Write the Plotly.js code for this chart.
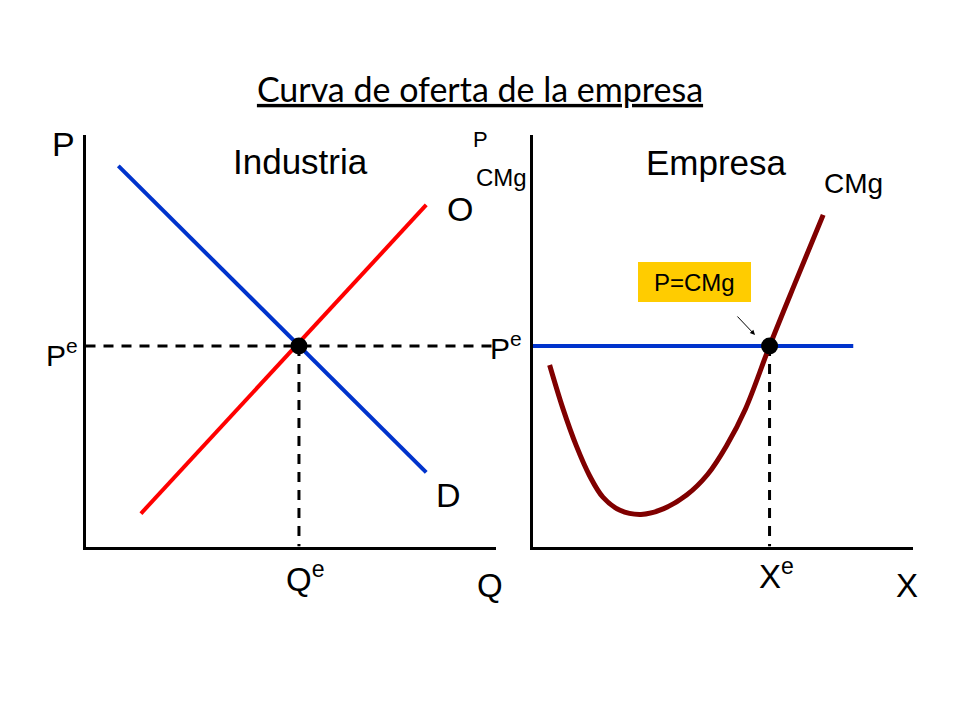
<!DOCTYPE html>
<html>
<head>
<meta charset="utf-8">
<script src="https://cdn.plot.ly/plotly-3.0.1.min.js"></script>
<style>html,body{margin:0;padding:0;background:#fff;}#chart{width:960px;height:720px;}</style>
</head>
<body>
<div id="chart"></div>
<script>
// ---- Data (Industria) ----
const demandQ = [0.8, 8.3];
const demandP = [9.25, 1.8];
const supplyQ = [1.35, 8.3];
const supplyP = [0.8, 8.3];
const marketEqQ = [5.2];
const marketEqP = [4.87];

// ---- Data (Empresa) ----
const cmgX = [0.45, 0.80, 1.15, 1.50, 1.85, 2.30, 2.85, 3.45, 4.05, 4.60, 5.10, 5.60, 6.23, 6.90, 7.64];
const cmgY = [4.41, 3.35, 2.45, 1.72, 1.20, 0.88, 0.78, 0.92, 1.25, 1.75, 2.45, 3.35, 4.87, 6.40, 8.06];
const priceX = [0, 8.43];
const priceY = [4.87, 4.87];
const firmEqX = [6.23];
const firmEqP = [4.87];

// ---- Texts ----
const titleText = 'Curva de oferta de la empresa';
const panelLabels = ['Industria', 'Empresa'];

const W = 960, H = 720;
const px = v => v / W;
const py = v => 1 - v / H;

const black = '#000000';
const blue = '#0033cc';
const red = '#ff0000';
const darkRed = '#800000';
const FAM = 'Arial, Liberation Sans, sans-serif';

const dashStyle = {color: black, width: 3, dash: '10px,8px'};
const traces = [
  // Industria
  {x: [0, 10], y: [marketEqP[0], marketEqP[0]], xaxis: 'x', yaxis: 'y', mode: 'lines', line: dashStyle},
  {x: [marketEqQ[0], marketEqQ[0]], y: [marketEqP[0], 0], xaxis: 'x', yaxis: 'y', mode: 'lines', line: dashStyle},
  {x: demandQ, y: demandP, xaxis: 'x', yaxis: 'y', mode: 'lines', line: {color: blue, width: 4}},
  {x: supplyQ, y: supplyP, xaxis: 'x', yaxis: 'y', mode: 'lines', line: {color: red, width: 4}},
  {x: marketEqQ, y: marketEqP, xaxis: 'x', yaxis: 'y', mode: 'markers', marker: {color: black, size: 17}},
  // Empresa
  {x: [firmEqX[0], firmEqX[0]], y: [firmEqP[0], 0], xaxis: 'x2', yaxis: 'y2', mode: 'lines', line: dashStyle},
  {x: priceX, y: priceY, xaxis: 'x2', yaxis: 'y2', mode: 'lines', line: {color: blue, width: 4}},
  {x: cmgX, y: cmgY, xaxis: 'x2', yaxis: 'y2', mode: 'lines', line: {color: darkRed, width: 5, shape: 'spline', smoothing: 1}},
  {x: firmEqX, y: firmEqP, xaxis: 'x2', yaxis: 'y2', mode: 'markers', marker: {color: black, size: 17}}
];

const axisBase = {showline: true, linecolor: black, linewidth: 3, showgrid: false, zeroline: false,
  showticklabels: false, ticks: '', range: [0, 10], fixedrange: true};

function lbl(text, x, y, size) {
  return {text: text, xref: 'paper', yref: 'paper', x: px(x), y: py(y),
    xanchor: 'center', yanchor: 'middle', showarrow: false,
    font: {family: FAM, size: size, color: black}};
}

const layout = {
  width: W, height: H,
  margin: {l: 0, r: 0, t: 0, b: 0},
  paper_bgcolor: '#ffffff', plot_bgcolor: '#ffffff',
  showlegend: false,
  title: {text: '<u>' + titleText + '</u>', x: 0.5, xanchor: 'center', y: py(90), yanchor: 'middle',
    font: {family: 'Lato, Open Sans, sans-serif', size: 34, color: black}},
  xaxis: Object.assign({}, axisBase, {domain: [px(85.5), px(496)], anchor: 'y'}),
  yaxis: Object.assign({}, axisBase, {domain: [1 - 546.5 / H, 1 - 135 / H], anchor: 'x'}),
  xaxis2: Object.assign({}, axisBase, {domain: [px(532.5), px(913)], anchor: 'y2'}),
  yaxis2: Object.assign({}, axisBase, {domain: [1 - 546.5 / H, 1 - 135 / H], anchor: 'x2'}),
  shapes: [
    {type: 'rect', xref: 'paper', yref: 'paper', x0: px(638), x1: px(751), y0: py(302), y1: py(262),
     fillcolor: '#ffcc00', line: {width: 0}, layer: 'below'}
  ],
  annotations: [
    lbl('P', 63, 144, 34),
    lbl(panelLabels[0], 300, 161, 35),
    lbl('O', 460, 209, 34),
    lbl('D', 448, 495, 34),
    lbl('P<sup>e</sup>', 62, 353, 30),
    lbl('P<sup>e</sup>', 506, 346, 30),
    lbl('Q<sup>e</sup>', 305, 577, 33),
    lbl('Q', 490, 585, 33),
    lbl('P', 480, 140, 22),
    lbl('CMg', 501, 177, 24),
    lbl(panelLabels[1], 716, 163, 35),
    lbl('CMg', 853, 183, 28),
    lbl('X<sup>e</sup>', 776, 574, 33),
    lbl('X', 907, 585, 33),
    lbl('P=CMg', 694, 283, 24),
    {text: '', xref: 'paper', yref: 'paper', x: px(755), y: py(335), ax: -19, ay: -20,
     showarrow: true, arrowhead: 2, arrowsize: 1, arrowwidth: 1, arrowcolor: black}
  ]
};

Plotly.newPlot('chart', traces, layout, {displayModeBar: false, staticPlot: true});
</script>
</body>
</html>
